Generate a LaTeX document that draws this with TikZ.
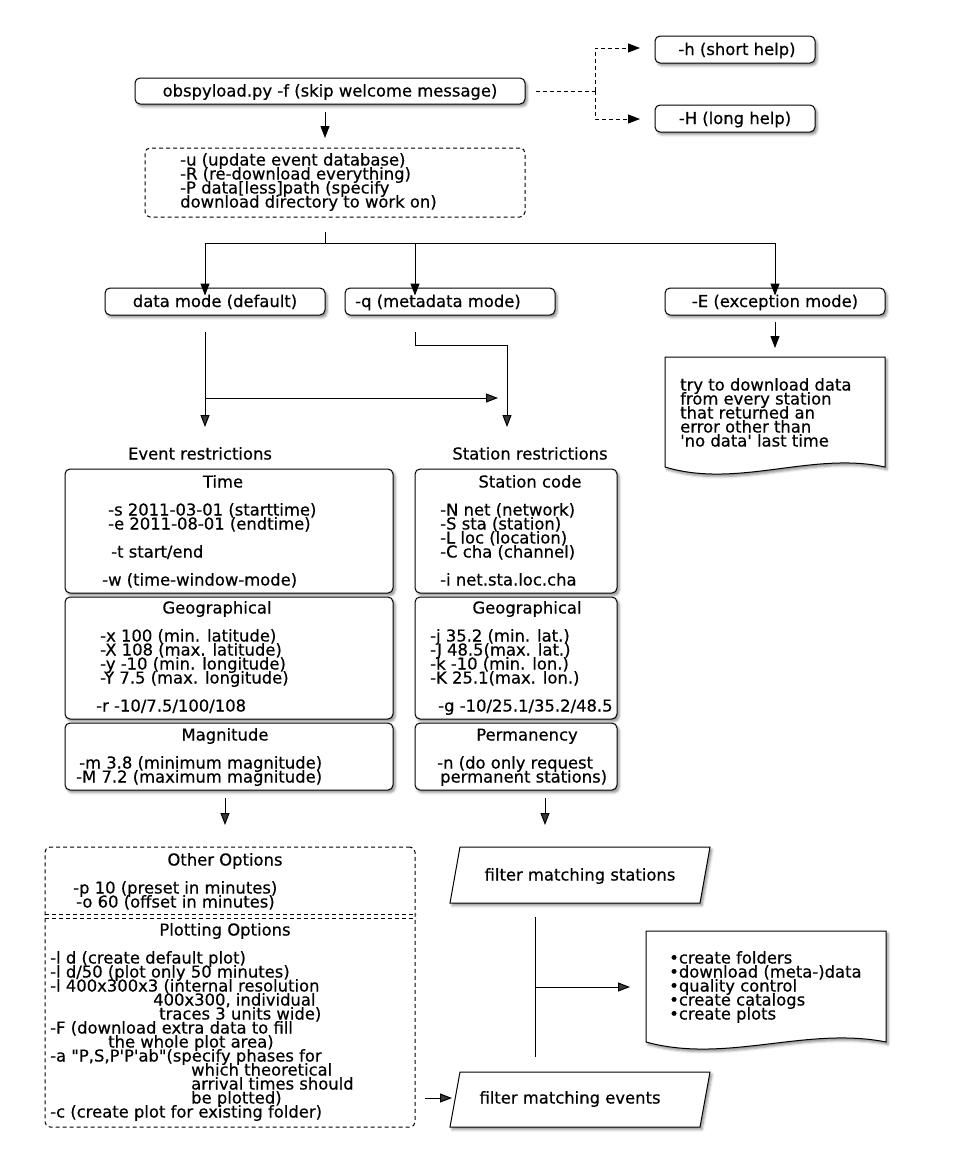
\documentclass[tikz,border=0pt]{standalone}
\usepackage{fontspec}
\setmainfont{DejaVu Sans}[FakeBold=0.5]
\usetikzlibrary{arrows.meta,shadows.blur,shapes.geometric}
\newcommand\tline[4]{\node[txt] (#1) at (#2,#3) {#4};}
\newcommand\ctline[4]{\node[ctxt] (#1) at (#2,#3) {#4};}
\begin{document}
\begin{tikzpicture}[x=1pt,y=-1pt,
  font=\fontsize{16.4}{14}\selectfont,
  lw/.style={line width=1pt},
  shad/.style={blur shadow={shadow xshift=2pt,shadow yshift=-2.5pt,shadow blur radius=2.5pt,shadow opacity=45}},
  box/.style={draw,line width=1pt,rounded corners=5pt,fill=white,shad,inner sep=0pt},
  dbox/.style={draw,line width=1pt,rounded corners=5pt,dash pattern=on 4pt off 3pt,inner sep=0pt},
  arr/.style={line width=1pt,-{Triangle[length=12pt,width=9pt]}},
  darr/.style={line width=1pt,dash pattern=on 4pt off 3pt,-{Triangle[length=12pt,width=9pt]}},
  txt/.style={inner sep=0pt,text height=11pt,text depth=0pt,anchor=west},
  ctxt/.style={inner sep=0pt,text height=11pt,text depth=0pt},
]
\useasboundingbox (0,0) rectangle (960,1162);

% ---------- top ----------
\node[box,minimum width=390pt,minimum height=26pt] (top) at (330,91) {};
\ctline{toptxt}{330}{91}{obspyload.py -f (skip welcome message)}
\node[box,minimum width=160pt,minimum height=27pt] (hbox) at (735,49.5) {};
\ctline{htxt}{737}{49.5}{-h (short help)}
\node[box,minimum width=160pt,minimum height=27pt] (Hbox) at (735,118.5) {};
\ctline{Htxt}{735}{118.5}{-H (long help)}

\coordinate (dj) at (595,91);
\coordinate (hend) at (640,48);
\coordinate (Hend) at (640,119);
\draw[lw,dash pattern=on 4pt off 3pt] ([xshift=10pt]top.east) -- (dj);
\draw[darr] (dj) |- (hend);
\draw[darr] (dj) |- (Hend);

\node[dbox,minimum width=380pt,minimum height=69pt] (opts) at (335,182.5) {};
\tline{o1}{180}{160}{-u (update event database)}
\tline{o2}{180}{174}{-R (re-download everything)}
\tline{o3}{180}{188}{-P data[less]path (specify}
\tline{o4}{180}{202}{download directory to work on)}

\coordinate (a1s) at (325,112);
\coordinate (a1e) at (325,138);
\draw[arr] (a1s) -- (a1e);

% ---------- modes ----------
\coordinate (b0) at (325,232);
\coordinate (b1) at (325,243);
\coordinate (bl) at (205,243);
\coordinate (bm) at (415,243);
\coordinate (br) at (775,243);
\draw[lw] (b0) -- (b1);
\draw[lw] (bl) -- (br);

\node[box,minimum width=220pt,minimum height=27pt] (data) at (215,301.5) {};
\ctline{datatxt}{215}{301.5}{data mode (default)}
\node[box,minimum width=210pt,minimum height=27pt] (meta) at (450,301.5) {};
\ctline{metatxt}{438}{301.5}{-q (metadata mode)}
\node[box,minimum width=220pt,minimum height=27pt] (exc) at (775,301.5) {};
\ctline{exctxt}{775}{301.5}{-E (exception mode)}

\draw[arr] (bl) -- ([yshift=-8pt]data.north -| bl);
\draw[arr] (bm) -- ([yshift=-8pt]meta.north -| bm);
\draw[arr] (br) -- ([yshift=-8pt]exc.north -| br);

% exception note
\coordinate (e1) at (775,322);
\coordinate (e2) at (775,348);
\draw[arr] (e1) -- (e2);
\path[draw,lw,fill=white,shad] (665,357) -- (885,357) -- (885,467)
  .. controls (812,451) and (738,489) .. (665,467) -- cycle;
\tline{n1}{680}{385}{try to download data}
\tline{n2}{680}{399}{from every station}
\tline{n3}{680}{413}{that returned an}
\tline{n4}{680}{427}{error other than}
\tline{n5}{680}{441}{\textquotesingle no data\textquotesingle{} last time}

% data / metadata flows
\coordinate (d1) at (205,332);
\coordinate (d2) at (205,427);
\coordinate (d3) at (205,398);
\coordinate (d4) at (498,398);
\draw[arr] (d1) -- (d2);
\draw[arr] (d3) -- (d4);
\coordinate (m1) at (415,332);
\coordinate (m2) at (507,345);
\coordinate (m3) at (507,427);
\draw[arr] (m1) |- (m2) -- (m3);

\ctline{evl}{200}{454}{Event restrictions}
\ctline{stl}{530}{454}{Station restrictions}

% ---------- event restrictions ----------
\node[box,minimum width=328pt,minimum height=124pt] (timeb) at (229,531) {};
\node[box,minimum width=328pt,minimum height=122pt] (geob) at (229,658) {};
\node[box,minimum width=328pt,minimum height=67pt] (magb) at (229,756.5) {};
\ctline{tt}{223}{482}{Time}
\tline{t1}{108}{510}{-s 2011-03-01 (starttime)}
\tline{t2}{108}{524}{-e 2011-08-01 (endtime)}
\tline{t3}{111}{552}{-t start/end}
\tline{t4}{102}{580}{-w (time-window-mode)}
\ctline{gt}{217}{608}{Geographical}
\tline{g1}{100}{636}{-x 100 (min. latitude)}
\tline{g2}{100}{650}{-X 108 (max. latitude)}
\tline{g3}{100}{664}{-y -10 (min. longitude)}
\tline{g4}{100}{678}{-Y 7.5 (max. longitude)}
\tline{g5}{96}{706}{-r -10/7.5/100/108}
\ctline{mt}{225}{735}{Magnitude}
\tline{mg1}{79}{763}{-m 3.8 (minimum magnitude)}
\tline{mg2}{76}{777}{-M 7.2 (maximum magnitude)}

% ---------- station restrictions ----------
\node[box,minimum width=202pt,minimum height=124pt] (scb) at (516,531) {};
\node[box,minimum width=202pt,minimum height=122pt] (sgb) at (516,658) {};
\node[box,minimum width=202pt,minimum height=67pt] (spb) at (516,756.5) {};
\ctline{sct}{530}{482}{Station code}
\tline{s1}{440}{510}{-N net (network)}
\tline{s2}{440}{524}{-S sta (station)}
\tline{s3}{440}{538}{-L loc (location)}
\tline{s4}{440}{552}{-C cha (channel)}
\tline{s5}{440}{580}{-i net.sta.loc.cha}
\ctline{sgt}{527}{608}{Geographical}
\tline{sg1}{430}{636}{-j 35.2 (min. lat.)}
\tline{sg2}{430}{650}{-J 48.5(max. lat.)}
\tline{sg3}{430}{664}{-k -10 (min. lon.)}
\tline{sg4}{430}{678}{-K 25.1(max. lon.)}
\tline{sg5}{438}{706}{-g -10/25.1/35.2/48.5}
\ctline{spt}{527}{735}{Permanency}
\tline{sp1}{437}{763}{-n (do only request}
\tline{sp2}{440}{777}{permanent stations)}

\coordinate (q1) at (225,798);
\coordinate (q2) at (225,825);
\coordinate (q3) at (545,798);
\coordinate (q4) at (545,825);
\draw[arr] (q1) -- (q2);
\draw[arr] (q3) -- (q4);

% ---------- other / plotting options ----------
\node[dbox,minimum width=370pt,minimum height=280pt] (oth) at (230,987) {};
\draw[lw,dash pattern=on 4pt off 3pt] (oth.west |- 0,914) -- (oth.east |- 0,914);
\draw[lw,dash pattern=on 4pt off 3pt] (oth.west |- 0,918) -- (oth.east |- 0,918);
\ctline{ot}{225}{860}{Other Options}
\tline{op1}{73}{888}{-p 10 (preset in minutes)}
\tline{op2}{76}{902}{-o 60 (offset in minutes)}
\ctline{pt}{225}{930}{Plotting Options}
\tline{p1}{50}{958}{-l d (create default plot)}
\tline{p2}{50}{972}{-l d/50 (plot only 50 minutes)}
\tline{p3}{50}{986}{-l 400x300x3 (internal resolution}
\tline{p4}{153}{1000}{400x300, individual}
\tline{p5}{159}{1014}{traces 3 units wide)}
\tline{p6}{50}{1028}{-F (download extra data to fill}
\tline{p7}{108}{1042}{the whole plot area)}
\tline{p8}{50}{1056}{-a \textquotedbl P,S,P\textquotesingle P\textquotesingle ab\textquotedbl(specify phases for}
\tline{p9}{191}{1070}{which theoretical}
\tline{p10}{191}{1084}{arrival times should}
\tline{p11}{191}{1098}{be plotted)}
\tline{p12}{50}{1112}{-c (create plot for existing folder)}

% ---------- filters ----------
\path[draw,lw,fill=white,shad] (460,847) -- (710,847) -- (700,903) -- (450,903) -- cycle;
\ctline{fsttxt}{580}{875}{filter matching stations}
\path[draw,lw,fill=white,shad] (460,1072) -- (710,1072) -- (700,1127) -- (450,1127) -- cycle;
\ctline{fevtxt}{570}{1098}{filter matching events}

\coordinate (v1) at (535,917);
\coordinate (v2) at (535,1057);
\coordinate (v3) at (535,987);
\coordinate (v4) at (630,987);
\draw[lw] (v1) -- (v2);
\draw[arr] (v3) -- (v4);

\path[draw,lw,fill=white,shad] (646,931) -- (886,931) -- (886,1042)
  .. controls (806,1026) and (726,1064) .. (646,1042) -- cycle;
\tline{c1}{669}{958}{•create folders}
\tline{c2}{669}{972}{•download (meta-)data}
\tline{c3}{669}{986}{•quality control}
\tline{c4}{669}{1000}{•create catalogs}
\tline{c5}{669}{1014}{•create plots}

\coordinate (f1) at (425,1098);
\coordinate (f2) at (452,1098);
\draw[arr] (f1) -- (f2);
\end{tikzpicture}
\end{document}
